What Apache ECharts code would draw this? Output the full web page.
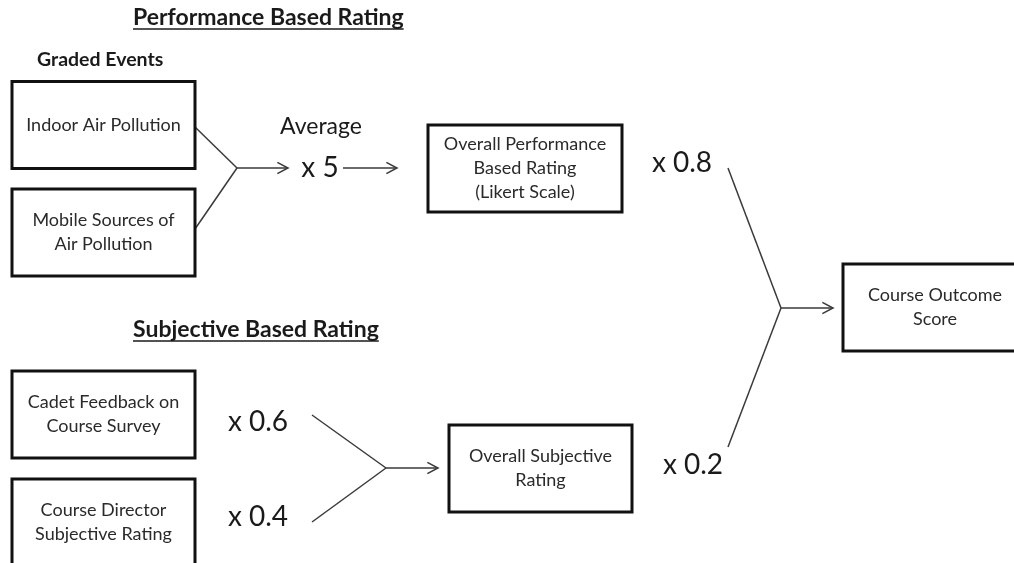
<!DOCTYPE html>
<html>
<head>
<meta charset="utf-8">
<title>Course Outcome Score</title>
<script src="https://cdn.jsdelivr.net/npm/echarts@6/dist/echarts.min.js"></script>
<style>
  html, body { margin: 0; padding: 0; background: #fff; }
  #chart { width: 1014px; height: 563px; }
</style>
</head>
<body>
<div id="chart"></div>
<script>
  // boxes: centre x, centre y (diagram units = pixels of the original), label
  var boxNames = [
    'Indoor Air Pollution',
    'Mobile Sources of\nAir Pollution',
    'Cadet Feedback on\nCourse Survey',
    'Course Director\nSubjective Rating',
    'Overall Performance\nBased Rating\n(Likert Scale)',
    'Overall Subjective\nRating',
    'Course Outcome\nScore'
  ];
  var boxX = [103.5, 103.5, 103.5, 103.5, 525, 540.5, 935];
  var boxY = [125, 232.5, 414.5, 522.5, 168.5, 468.5, 307.5];
  var boxW = [183, 183, 183, 183, 194, 183, 184];

  // connector segments: from (x1,y1) to (x2,y2), 1 = arrow head at the end
  var segFrom = [[195, 127], [195, 229], [237, 168], [343, 168],
                 [312, 415], [312, 522], [386, 468],
                 [728, 168], [728, 447], [781, 308]];
  var segTo = [[237, 168], [237, 168], [288, 168], [397, 168],
               [386, 468], [386, 468], [438, 468],
               [781, 308], [781, 308], [833, 308]];
  var segArrow = [0, 0, 1, 1, 0, 0, 1, 0, 0, 1];

  // weights and notes
  var noteText = ['Average', 'x 5', 'x 0.6', 'x 0.4', 'x 0.8', 'x 0.2'];
  var noteX = [321, 320, 258, 258, 682, 693];
  var noteY = [127, 168, 422, 517, 163, 465];

  // section headings
  var headText = ['Performance Based Rating', 'Subjective Based Rating', 'Graded Events'];
  var headX = [133, 133, 37];
  var headY = [18, 330, 60];
  var headUnderline = [1, 1, 0];

  var FONT = 'Lato, "Open Sans", sans-serif';
  var BOX_H = 87;

  var measureCtx = document.createElement('canvas').getContext('2d');
  function textWidth(str, font) {
    measureCtx.font = font;
    return measureCtx.measureText(str).width;
  }

  var chart = echarts.init(document.getElementById('chart'));

  var option = {
    backgroundColor: '#fff',
    animation: false,
    grid: { left: 0, right: 0, top: 0, bottom: 0 },
    xAxis: { type: 'value', min: 0, max: 1014, show: false },
    yAxis: { type: 'value', min: 0, max: 563, inverse: true, show: false },
    series: [
      {
        // connectors
        type: 'custom',
        coordinateSystem: 'cartesian2d',
        data: segFrom.map(function (p, i) {
          return [p[0], p[1], segTo[i][0], segTo[i][1], segArrow[i]];
        }),
        renderItem: function (params, api) {
          var a = api.coord([api.value(0), api.value(1)]);
          var b = api.coord([api.value(2), api.value(3)]);
          var children = [{
            type: 'line',
            shape: { x1: a[0], y1: a[1], x2: b[0], y2: b[1] },
            style: { stroke: '#3a3a3a', lineWidth: 1.5 }
          }];
          if (api.value(4)) {
            var ang = Math.atan2(b[1] - a[1], b[0] - a[0]);
            var len = 12, spread = 0.48;
            children.push({
              type: 'polyline',
              shape: { points: [
                [b[0] - len * Math.cos(ang - spread), b[1] - len * Math.sin(ang - spread)],
                [b[0], b[1]],
                [b[0] - len * Math.cos(ang + spread), b[1] - len * Math.sin(ang + spread)]
              ] },
              style: { stroke: '#3a3a3a', lineWidth: 1.5, fill: null }
            });
          }
          return { type: 'group', children: children };
        }
      },
      {
        // boxes
        type: 'custom',
        coordinateSystem: 'cartesian2d',
        data: boxNames.map(function (n, i) {
          return [boxX[i], boxY[i], boxW[i]];
        }),
        renderItem: function (params, api) {
          var c = api.coord([api.value(0), api.value(1)]);
          var w = api.value(2);
          return {
            type: 'group',
            children: [
              {
                type: 'rect',
                shape: { x: c[0] - w / 2, y: c[1] - BOX_H / 2, width: w, height: BOX_H },
                style: { fill: '#fff', stroke: '#111', lineWidth: 3 }
              },
              {
                type: 'text',
                style: {
                  text: boxNames[params.dataIndex],
                  x: c[0], y: c[1],
                  align: 'center', verticalAlign: 'middle',
                  fontFamily: FONT, fontSize: 18, lineHeight: 24,
                  fill: '#2a2a2a'
                }
              }
            ]
          };
        }
      },
      {
        // weights
        type: 'custom',
        coordinateSystem: 'cartesian2d',
        data: noteText.map(function (t, i) { return [noteX[i], noteY[i]]; }),
        renderItem: function (params, api) {
          var c = api.coord([api.value(0), api.value(1)]);
          var isWord = params.dataIndex === 0;
          return {
            type: 'text',
            style: {
              text: noteText[params.dataIndex],
              x: c[0], y: c[1],
              align: 'center', verticalAlign: 'middle',
              fontFamily: FONT, fontSize: isWord ? 23 : 28,
              fill: '#1a1a1a'
            }
          };
        }
      },
      {
        // headings
        type: 'custom',
        coordinateSystem: 'cartesian2d',
        data: headText.map(function (t, i) { return [headX[i], headY[i], headUnderline[i]]; }),
        renderItem: function (params, api) {
          var c = api.coord([api.value(0), api.value(1)]);
          var txt = headText[params.dataIndex];
          var size = api.value(2) ? 23 : 19.5;
          var children = [{
            type: 'text',
            style: {
              text: txt, x: c[0], y: c[1],
              align: 'left', verticalAlign: 'middle',
              fontFamily: FONT, fontSize: size, fontWeight: 'bold',
              fill: '#1a1a1a'
            }
          }];
          if (api.value(2)) {
            var w = textWidth(txt, 'bold ' + size + 'px ' + FONT);
            children.push({
              type: 'line',
              shape: { x1: c[0], y1: c[1] + 11, x2: c[0] + w, y2: c[1] + 11 },
              style: { stroke: '#1a1a1a', lineWidth: 1.5 }
            });
          }
          return { type: 'group', children: children };
        }
      }
    ]
  };

  chart.setOption(option);
</script>
</body>
</html>
